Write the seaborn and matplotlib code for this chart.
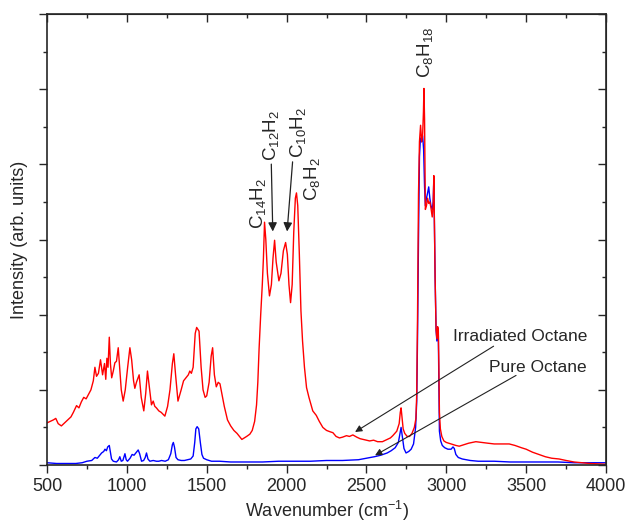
import numpy as np
import pandas as pd
import matplotlib
matplotlib.use("Agg")
import matplotlib.pyplot as plt
from matplotlib.ticker import MultipleLocator
import seaborn as sns

# Raman-spektra: bestrålad oktan (röd) och ren oktan (blå)
red_wn = [500, 520, 540, 555, 570, 590, 610, 630, 650, 665, 685, 700, 715, 730, 745, 760, 775, 790,
          800, 810, 822, 835, 848, 860, 868, 875, 882, 890, 897, 905, 915, 925, 935, 946, 955, 965,
          977, 990, 1005, 1019, 1030, 1042, 1050, 1060, 1077, 1090, 1106, 1118, 1129, 1140, 1154,
          1165, 1175, 1185, 1200, 1215, 1238, 1255, 1270, 1285, 1294, 1305, 1320, 1340, 1355, 1370,
          1385, 1394, 1404, 1415, 1428, 1437, 1452, 1465, 1477, 1490, 1500, 1515, 1528, 1537, 1548,
          1560, 1572, 1583, 1595, 1610, 1630, 1650, 1670, 1690, 1705, 1720, 1735, 1750, 1770, 1785,
          1800, 1812, 1820, 1828, 1838, 1848, 1855, 1862, 1870, 1880, 1893, 1905, 1915, 1925, 1935,
          1952, 1965, 1980, 1994, 2005, 2015, 2025, 2035, 2045, 2055, 2062, 2070, 2080, 2090, 2100,
          2112, 2125, 2140, 2164, 2186, 2205, 2227, 2250, 2275, 2290, 2310, 2331, 2350, 2375, 2394,
          2415, 2440, 2460, 2480, 2498, 2520, 2545, 2570, 2600, 2630, 2650, 2665, 2690, 2705, 2712,
          2717, 2722, 2730, 2740, 2755, 2770, 2785, 2800, 2810, 2815, 2820, 2826, 2832, 2839, 2846,
          2852, 2857, 2860, 2864, 2869, 2876, 2883, 2890, 2897, 2904, 2912, 2918, 2922, 2926, 2930,
          2936, 2941, 2946, 2950, 2953, 2957, 2963, 2972, 2985, 3000, 3030, 3060, 3081, 3110, 3140,
          3185, 3220, 3260, 3300, 3340, 3394, 3430, 3470, 3500, 3540, 3580, 3620, 3660, 3706, 3750,
          3800, 3850, 3900, 3950, 4000]
red_int = [0.56, 0.58, 0.60, 0.62, 0.55, 0.52, 0.56, 0.60, 0.64, 0.70, 0.79, 0.76, 0.84, 0.90, 0.88,
           0.94, 1.00, 1.12, 1.30, 1.18, 1.22, 1.40, 1.20, 1.35, 1.14, 1.42, 1.30, 1.70, 1.35, 1.16,
           1.25, 1.36, 1.38, 1.56, 1.30, 1.00, 0.85, 1.00, 1.30, 1.56, 1.40, 1.12, 1.02, 1.10, 1.20,
           0.90, 0.72, 0.95, 1.25, 1.05, 0.80, 0.85, 0.78, 0.76, 0.72, 0.70, 0.65, 0.78, 1.00, 1.35,
           1.48, 1.20, 0.85, 1.00, 1.12, 1.16, 1.20, 1.25, 1.22, 1.30, 1.75, 1.83, 1.78, 1.30, 1.00,
           0.90, 0.92, 1.10, 1.45, 1.56, 1.20, 1.04, 1.10, 1.08, 0.95, 0.78, 0.60, 0.52, 0.46, 0.42,
           0.38, 0.34, 0.36, 0.38, 0.41, 0.46, 0.58, 0.80, 1.10, 1.55, 2.00, 2.40, 2.75, 3.23, 3.00,
           2.55, 2.25, 2.40, 2.75, 2.99, 2.70, 2.45, 2.55, 2.85, 2.96, 2.80, 2.40, 2.16, 2.40, 3.10,
           3.55, 3.62, 3.45, 2.80, 2.05, 1.65, 1.30, 1.03, 0.90, 0.72, 0.66, 0.58, 0.50, 0.46, 0.44,
           0.43, 0.38, 0.36, 0.37, 0.39, 0.38, 0.40, 0.37, 0.35, 0.34, 0.33, 0.32, 0.33, 0.31, 0.31,
           0.34, 0.36, 0.39, 0.45, 0.55, 0.70, 0.76, 0.65, 0.48, 0.42, 0.38, 0.38, 0.42, 0.50, 0.62,
           0.95, 2.00, 3.60, 4.30, 4.52, 4.30, 4.40, 4.70, 5.01, 4.60, 3.40, 3.45, 3.55, 3.48, 3.50,
           3.42, 3.30, 3.45, 3.85, 3.20, 2.50, 1.80, 1.68, 1.84, 1.80, 1.40, 0.70, 0.48, 0.38, 0.32,
           0.30, 0.28, 0.26, 0.25, 0.27, 0.29, 0.31, 0.30, 0.29, 0.28, 0.28, 0.28, 0.26, 0.23, 0.21,
           0.17, 0.14, 0.11, 0.09, 0.08, 0.06, 0.04, 0.03, 0.02, 0.015, 0.01]

blue_wn = [500, 560, 620, 680, 720, 750, 780, 800, 815, 830, 842, 855, 863, 872, 880, 890, 897, 904,
           915, 935, 948, 956, 965, 975, 988, 996, 1004, 1020, 1033, 1045, 1060, 1071, 1080, 1092,
           1105, 1115, 1123, 1132, 1144, 1165, 1185, 1200, 1217, 1240, 1260, 1275, 1285, 1291, 1298,
           1308, 1320, 1340, 1360, 1380, 1400, 1415, 1425, 1432, 1440, 1450, 1460, 1470, 1480, 1500,
           1530, 1580, 1650, 1750, 1850, 1950, 2050, 2150, 2250, 2350, 2450, 2500, 2550, 2590, 2630,
           2655, 2680, 2700, 2710, 2717, 2725, 2735, 2748, 2765, 2780, 2795, 2808, 2815, 2820, 2826,
           2832, 2838, 2845, 2852, 2858, 2864, 2869, 2876, 2883, 2890, 2897, 2904, 2912, 2918, 2922,
           2926, 2930, 2936, 2941, 2946, 2950, 2953, 2957, 2965, 2975, 2990, 3010, 3030, 3042, 3050,
           3060, 3075, 3100, 3150, 3200, 3300, 3400, 3500, 3600, 3700, 3800, 3900, 4000]
blue_int = [0.03, 0.02, 0.02, 0.02, 0.03, 0.05, 0.06, 0.10, 0.09, 0.13, 0.16, 0.18, 0.21, 0.19, 0.24,
            0.26, 0.17, 0.08, 0.05, 0.04, 0.07, 0.11, 0.05, 0.06, 0.15, 0.07, 0.05, 0.09, 0.14, 0.13,
            0.17, 0.20, 0.15, 0.05, 0.06, 0.10, 0.16, 0.08, 0.05, 0.06, 0.05, 0.05, 0.06, 0.05, 0.07,
            0.15, 0.27, 0.30, 0.24, 0.10, 0.07, 0.06, 0.06, 0.07, 0.08, 0.12, 0.30, 0.48, 0.51, 0.48,
            0.30, 0.14, 0.09, 0.07, 0.05, 0.05, 0.04, 0.04, 0.04, 0.05, 0.05, 0.05, 0.06, 0.06, 0.07,
            0.09, 0.11, 0.13, 0.16, 0.19, 0.23, 0.30, 0.42, 0.50, 0.38, 0.22, 0.16, 0.18, 0.21, 0.28,
            0.50, 0.85, 1.70, 3.00, 4.10, 4.35, 4.30, 4.38, 4.20, 3.70, 3.45, 3.55, 3.62, 3.70, 3.55,
            3.45, 3.40, 3.50, 3.80, 3.10, 2.50, 1.80, 1.65, 1.80, 1.75, 1.20, 0.45, 0.32, 0.26, 0.23,
            0.21, 0.21, 0.24, 0.22, 0.14, 0.10, 0.08, 0.06, 0.05, 0.05, 0.04, 0.04, 0.04, 0.04, 0.03,
            0.03, 0.03]

# Etiketter för toppar: (text, x, y) i datakoordinater
peak_labels = [("C$_{14}$H$_2$", 1819, 3.48),
               ("C$_{12}$H$_2$", 1904, 4.38),
               ("C$_{10}$H$_2$", 2069, 4.43),
               ("C$_8$H$_2$", 2161, 3.81),
               ("C$_8$H$_{18}$", 2869, 5.49)]

sns.set_style("ticks")
plt.rcParams['font.family'] = ['Liberation Sans', 'DejaVu Sans']
plt.rcParams['mathtext.default'] = 'regular'

red_df = pd.DataFrame({'Wavenumber': red_wn, 'Intensity': red_int})
blue_df = pd.DataFrame({'Wavenumber': blue_wn, 'Intensity': blue_int})

fig = plt.figure(figsize=(6.25, 5.25), dpi=100)
ax = fig.add_axes([0.0752, 0.1143, 0.8944, 0.859])

# blå först så att den röda ligger ovanpå
sns.lineplot(data=blue_df, x='Wavenumber', y='Intensity', ax=ax, color='#0000ff',
             linewidth=1.0, sort=False, estimator=None)
sns.lineplot(data=red_df, x='Wavenumber', y='Intensity', ax=ax, color='#ff0000',
             linewidth=1.0, sort=False, estimator=None)

ax.set_xlim(500, 4000)
ax.set_ylim(0, 6)
ax.set_xlabel('Wavenumber (cm$^{-1}$)', fontsize=13, labelpad=3)
ax.set_ylabel('Intensity (arb. units)', fontsize=13, labelpad=4)

# Axlar: ticks utåt nere/vänster, inåt uppe/höger
ax.xaxis.set_major_locator(MultipleLocator(500))
ax.xaxis.set_minor_locator(MultipleLocator(250))
ax.yaxis.set_major_locator(MultipleLocator(1))
ax.yaxis.set_minor_locator(MultipleLocator(0.5))
ax.set_yticklabels([])
ax.tick_params(which='major', direction='out', length=6, width=1, labelsize=13)
ax.tick_params(which='minor', direction='out', length=3.2, width=1)
for s in ax.spines.values():
    s.set_linewidth(1.2)
    s.set_visible(True)

top = ax.secondary_xaxis('top')
top.xaxis.set_major_locator(MultipleLocator(500))
top.xaxis.set_minor_locator(MultipleLocator(250))
top.tick_params(which='major', direction='in', length=6, width=1, labeltop=False)
top.tick_params(which='minor', direction='in', length=3.2, width=1)
right = ax.secondary_yaxis('right')
right.yaxis.set_major_locator(MultipleLocator(1))
right.yaxis.set_minor_locator(MultipleLocator(0.5))
right.tick_params(which='major', direction='in', length=6, width=1, labelright=False)
right.tick_params(which='minor', direction='in', length=3.2, width=1)

# Toppetiketter (roterade)
for text, x, y in peak_labels:
    ax.text(x, y, text, rotation=90, ha='center', va='center', fontsize=13.5)

arrow_style = dict(arrowstyle='-|>', color='#222222', lw=0.9, mutation_scale=13)
ax.annotate('', xy=(1914, 3.07), xytext=(1904, 4.04), arrowprops=arrow_style)
ax.annotate('', xy=(2002, 3.07), xytext=(2039, 4.07), arrowprops=arrow_style)

# Serieetiketter med pilar
ax.text(3881, 1.71, 'Irradiated Octane', ha='right', va='center', fontsize=12.5)
ax.text(3881, 1.30, 'Pure Octane', ha='right', va='center', fontsize=12.5)
ax.annotate('', xy=(2414, 0.42), xytext=(3311, 1.60),
            arrowprops=dict(arrowstyle='-|>', color='#222222', lw=0.8, mutation_scale=10))
ax.annotate('', xy=(2539, 0.11), xytext=(3452, 1.21),
            arrowprops=dict(arrowstyle='-|>', color='#222222', lw=0.8, mutation_scale=10))

fig.savefig('out.png', dpi=100)
